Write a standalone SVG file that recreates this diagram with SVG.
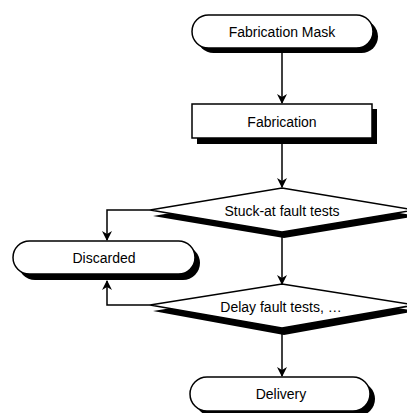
<svg xmlns="http://www.w3.org/2000/svg" width="407" height="413" viewBox="0 0 407 413">
  <style>
    .shadow { fill: #000; }
    .shape { fill: #fff; stroke: #000; stroke-width: 1.5; }
    .label { font-family: "Liberation Sans", Arial, sans-serif; font-size: 14px; fill: #000; text-anchor: middle; }
    .conn { fill: none; stroke: #000; stroke-width: 1.5; }
  </style>
  <defs>
    <marker id="arrow" markerWidth="10" markerHeight="12" refX="9" refY="5" orient="auto" markerUnits="userSpaceOnUse">
      <path d="M0,0 L10,5 L0,10 L3,5 Z" fill="#000"/>
    </marker>
  </defs>
  <rect width="407" height="413" fill="#fff"/>

  <!-- connectors -->
  <g id="connectors">
    <line class="conn" x1="282" y1="53" x2="282" y2="103" marker-end="url(#arrow)"/>
    <line class="conn" x1="282" y1="143" x2="282" y2="187" marker-end="url(#arrow)"/>
    <line class="conn" x1="282" y1="236" x2="282" y2="284" marker-end="url(#arrow)"/>
    <line class="conn" x1="282" y1="334" x2="282" y2="376" marker-end="url(#arrow)"/>
    <polyline class="conn" points="150,210 107,210 107,240" marker-end="url(#arrow)"/>
    <polyline class="conn" points="150,305 107,305 107,281" marker-end="url(#arrow)"/>
  </g>

  <g id="fabrication-mask">
    <rect class="shadow" x="197" y="20" width="181" height="33" rx="16.5"/>
    <rect class="shape" x="192" y="15" width="181" height="33" rx="16.5"/>
    <text class="label" x="282" y="37">Fabrication Mask</text>
  </g>

  <g id="fabrication">
    <rect class="shadow" x="197" y="109" width="180" height="35"/>
    <rect class="shape" x="192" y="104" width="180" height="34"/>
    <text class="label" x="282" y="127">Fabrication</text>
  </g>

  <g id="stuck-at-tests">
    <polygon class="shadow" points="284,194 417,216 284,238 153,216"/>
    <polygon class="shape" points="282,188 415,210 282,232 150,210"/>
    <text class="label" x="282" y="216">Stuck-at fault tests</text>
  </g>

  <g id="discarded">
    <rect class="shadow" x="18" y="246" width="182" height="34" rx="17"/>
    <rect class="shape" x="13" y="241" width="182" height="33" rx="16.5"/>
    <text class="label" x="104" y="263">Discarded</text>
  </g>

  <g id="delay-tests">
    <polygon class="shadow" points="284,290 417,311 284,335 153,311"/>
    <polygon class="shape" points="282,284 415,305 282,328 150,305"/>
    <text class="label" x="281" y="312">Delay fault tests, …</text>
  </g>

  <g id="delivery">
    <rect class="shadow" x="195" y="382" width="180" height="34" rx="17"/>
    <rect class="shape" x="190" y="377" width="180" height="34" rx="17"/>
    <text class="label" x="281" y="399">Delivery</text>
  </g>
</svg>
